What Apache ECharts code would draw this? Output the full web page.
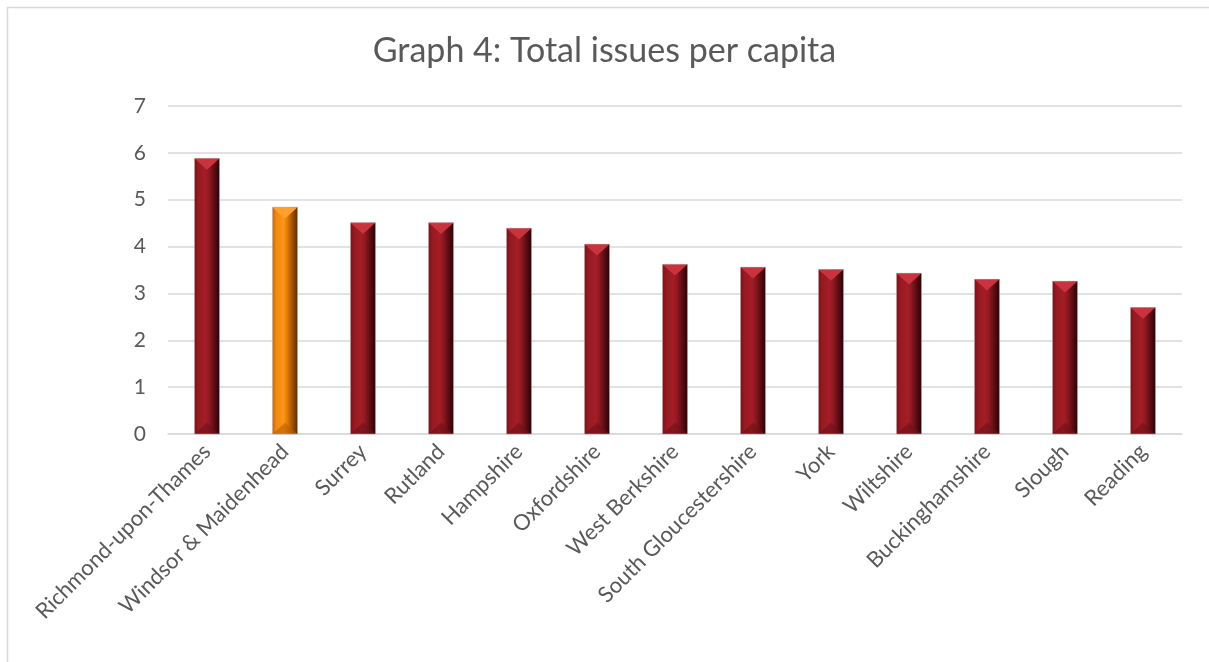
<!DOCTYPE html>
<html><head><meta charset="utf-8">
<script src="https://cdn.jsdelivr.net/npm/echarts@6/dist/echarts.min.js"></script>
<style>html,body{margin:0;padding:0;background:#fff}#c{width:1209px;height:662px}</style>
</head><body><div id="c"></div>
<script>
const categories = ["Richmond-upon-Thames","Windsor & Maidenhead","Surrey","Rutland","Hampshire","Oxfordshire","West Berkshire","South Gloucestershire","York","Wiltshire","Buckinghamshire","Slough","Reading"];
const values = [5.88, 4.84, 4.51, 4.51, 4.39, 4.05, 3.62, 3.56, 3.51, 3.43, 3.30, 3.26, 2.70];
const highlightIndex = 1;
const yTicks = [0,1,2,3,4,5,6,7];

const chart = echarts.init(document.getElementById('c'));
function grad(stops){ return new echarts.graphic.LinearGradient(0,0,1,0, stops.map(s=>({offset:s[0],color:s[1]}))); }
const red = {body:[[0,'#7c1219'],[0.15,'#951a22'],[0.45,'#a51d26'],[0.6,'#8c1720'],[0.8,'#5a0c12'],[1,'#2a0306']], top:'#c9333d', bot:'#6e1017'};
const orange = {body:[[0,'#c86a00'],[0.15,'#f08a10'],[0.45,'#ff9418'],[0.6,'#e07a00'],[0.8,'#a05000'],[1,'#5a2c00']], top:'#ffa030', bot:'#b06000'};

chart.setOption({
  animation:false,
  title:{text:'Graph 4: Total issues per capita', left:'center', top:29,
    textStyle:{fontFamily:'Lato', fontSize:34, fontWeight:'normal', color:'#595959'}},
  graphic:[
    {type:'line', shape:{x1:7.5,y1:7,x2:7.5,y2:662}, style:{stroke:'#d9d9d9', lineWidth:1.5}},
    {type:'line', shape:{x1:7,y1:7.5,x2:1209,y2:7.5}, style:{stroke:'#d9d9d9', lineWidth:1.5}}
  ],
  grid:{left:168, right:27, top:106, bottom:228},
  xAxis:{type:'category', data:categories,
    axisLine:{lineStyle:{color:'#d9d9d9', width:1.5}}, axisTick:{show:false},
    axisLabel:{rotate:45, interval:0, margin:14, fontFamily:'Lato', fontSize:22, color:'#595959'}},
  yAxis:{type:'value', min:yTicks[0], max:yTicks[yTicks.length-1], interval:1,
    axisLine:{show:false}, axisTick:{show:false},
    splitLine:{lineStyle:{color:'#d9d9d9', width:1.5}},
    axisLabel:{margin:22, fontFamily:'Lato', fontSize:21, color:'#595959'}},
  series:[{
    type:'custom',
    data:values.map((v,i)=>[i,v]),
    encode:{x:0,y:1},
    renderItem:function(params, api){
      const i = api.value(0), v = api.value(1);
      const top = api.coord([i, v]);
      const base = api.coord([i, 0]);
      const w = api.size([1,0])[0]*0.32;
      const x0 = top[0]-w/2, x1 = top[0]+w/2;
      const c = i===highlightIndex ? orange : red;
      const d = w*0.45;
      return {type:'group', children:[
        {type:'rect', shape:{x:x0, y:top[1], width:w, height:base[1]-top[1]}, style:{fill:grad(c.body)}},
        {type:'polygon', shape:{points:[[x0,top[1]],[x1,top[1]],[top[0],top[1]+d]]}, style:{fill:c.top}},
        {type:'polygon', shape:{points:[[x0,base[1]],[x1,base[1]],[top[0],base[1]-d]]}, style:{fill:c.bot, opacity:0.6}},
        {type:'rect', shape:{x:x0, y:top[1], width:w, height:base[1]-top[1]}, style:{fill:'none', stroke:'rgba(200,160,160,0.5)', lineWidth:1}}
      ]};
    }
  }]
});
</script></body></html>
